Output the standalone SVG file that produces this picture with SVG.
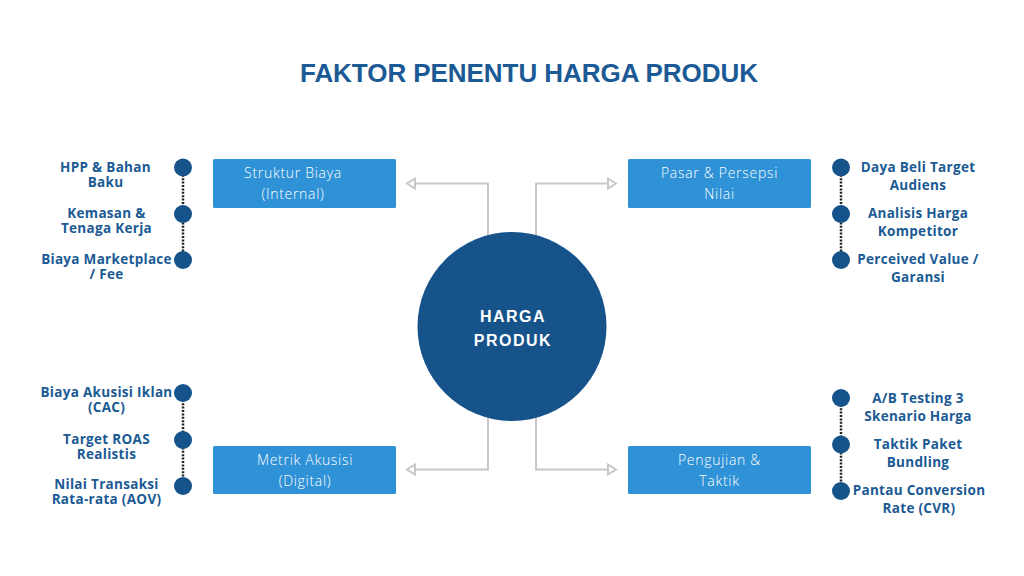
<svg xmlns="http://www.w3.org/2000/svg" width="1024" height="576" viewBox="0 0 1024 576">
<defs>
<style>
.title{font-family:"Liberation Sans",Arial,sans-serif;font-weight:bold;font-size:26px;fill:#1b5a94;}
.box{fill:#2f91d6;}
.btxt{font-family:"Open Sans","DejaVu Sans",sans-serif;font-weight:300;font-size:14px;fill:#ffffff;text-anchor:middle;letter-spacing:0.7px;}
.lbl{font-family:"Open Sans","DejaVu Sans",sans-serif;font-weight:bold;font-size:13.5px;fill:#1b5a94;text-anchor:middle;letter-spacing:0.3px;}
.dot{fill:#15538a;}
.dots{stroke:#222;stroke-width:2.5;stroke-dasharray:2 1.4;fill:none;}
.conn{stroke:#c8c8c8;stroke-width:2;fill:none;}
.head{stroke:#c8c8c8;stroke-width:2;fill:#ffffff;stroke-linejoin:miter;}
.ctxt{font-family:"Liberation Sans",Arial,sans-serif;font-weight:bold;font-size:16px;fill:#ffffff;text-anchor:middle;letter-spacing:1.5px;}
</style>
</defs>
<rect width="1024" height="576" fill="#ffffff"/>
<text class="title" x="529" y="82" text-anchor="middle" textLength="458">FAKTOR PENENTU HARGA PRODUK</text>

<g id="connectors">
<path class="conn" d="M488 240 V183.5 H415"/>
<path class="head" d="M415 178.5 L407 183.5 L415 188.5 Z"/>
<path class="conn" d="M536 240 V183.5 H608"/>
<path class="head" d="M608 178.5 L616 183.5 L608 188.5 Z"/>
<path class="conn" d="M488 414 V469.5 H415"/>
<path class="head" d="M415 464.5 L407 469.5 L415 474.5 Z"/>
<path class="conn" d="M536 414 V469.5 H608"/>
<path class="head" d="M608 464.5 L616 469.5 L608 474.5 Z"/>
<path class="dots" d="M183 168 V260"/>
<path class="dots" d="M841 168 V260"/>
<path class="dots" d="M183 393 V486"/>
<path class="dots" d="M841 398 V491"/>
</g>

<g id="center">
<circle cx="512" cy="326.5" r="94.5" fill="#15538a"/>
<text class="ctxt" x="513" y="321.5">HARGA</text>
<text class="ctxt" x="513" y="345.5">PRODUK</text>
</g>

<g id="struktur">
<rect class="box" x="213" y="159" width="183" height="49" rx="1.5"/>
<text class="btxt" x="293" y="177.5">Struktur Biaya</text>
<text class="btxt" x="293" y="198.5">(Internal)</text>
</g>
<g id="pasar">
<rect class="box" x="628" y="159" width="183" height="49" rx="1.5"/>
<text class="btxt" x="719.5" y="177.5">Pasar &amp; Persepsi</text>
<text class="btxt" x="719.5" y="198.5">Nilai</text>
</g>
<g id="metrik">
<rect class="box" x="213" y="446" width="183" height="48" rx="1.5"/>
<text class="btxt" x="305" y="464.5">Metrik Akusisi</text>
<text class="btxt" x="305" y="485.5">(Digital)</text>
</g>
<g id="pengujian">
<rect class="box" x="628" y="446" width="183" height="48" rx="1.5"/>
<text class="btxt" x="719.5" y="464.5">Pengujian &amp;</text>
<text class="btxt" x="719.5" y="485.5">Taktik</text>
</g>

<g id="hpp">
<circle class="dot" cx="183" cy="167.5" r="9"/>
<text class="lbl" x="105.5" y="171.5">HPP &amp; Bahan</text>
<text class="lbl" x="105.5" y="187">Baku</text>
</g>
<g id="kemasan">
<circle class="dot" cx="183" cy="214" r="9"/>
<text class="lbl" x="106.5" y="217.5">Kemasan &amp;</text>
<text class="lbl" x="106.5" y="232.5">Tenaga Kerja</text>
</g>
<g id="marketplace">
<circle class="dot" cx="183" cy="260" r="9"/>
<text class="lbl" x="106.5" y="263.5">Biaya Marketplace</text>
<text class="lbl" x="106.5" y="278.5">/ Fee</text>
</g>

<g id="dayabeli">
<circle class="dot" cx="841" cy="167.5" r="9"/>
<text class="lbl" x="918" y="172">Daya Beli Target</text>
<text class="lbl" x="918" y="189.5">Audiens</text>
</g>
<g id="analisis">
<circle class="dot" cx="841" cy="214" r="9"/>
<text class="lbl" x="918" y="218">Analisis Harga</text>
<text class="lbl" x="918" y="235.5">Kompetitor</text>
</g>
<g id="perceived">
<circle class="dot" cx="841" cy="260" r="9"/>
<text class="lbl" x="918" y="264">Perceived Value /</text>
<text class="lbl" x="918" y="281.5">Garansi</text>
</g>

<g id="cac">
<circle class="dot" cx="183" cy="393" r="9"/>
<text class="lbl" x="106.5" y="397">Biaya Akusisi Iklan</text>
<text class="lbl" x="106.5" y="412">(CAC)</text>
</g>
<g id="roas">
<circle class="dot" cx="183" cy="440" r="9"/>
<text class="lbl" x="106.5" y="443.5">Target ROAS</text>
<text class="lbl" x="106.5" y="458.5">Realistis</text>
</g>
<g id="aov">
<circle class="dot" cx="183" cy="486" r="9"/>
<text class="lbl" x="106.5" y="489">Nilai Transaksi</text>
<text class="lbl" x="106.5" y="504">Rata-rata (AOV)</text>
</g>

<g id="abtesting">
<circle class="dot" cx="841" cy="398" r="9"/>
<text class="lbl" x="918" y="403">A/B Testing 3</text>
<text class="lbl" x="918" y="420.5">Skenario Harga</text>
</g>
<g id="bundling">
<circle class="dot" cx="841" cy="444.5" r="9"/>
<text class="lbl" x="918" y="449">Taktik Paket</text>
<text class="lbl" x="918" y="467">Bundling</text>
</g>
<g id="cvr">
<circle class="dot" cx="841" cy="491" r="9"/>
<text class="lbl" x="919" y="495">Pantau Conversion</text>
<text class="lbl" x="919" y="513">Rate (CVR)</text>
</g>
</svg>
